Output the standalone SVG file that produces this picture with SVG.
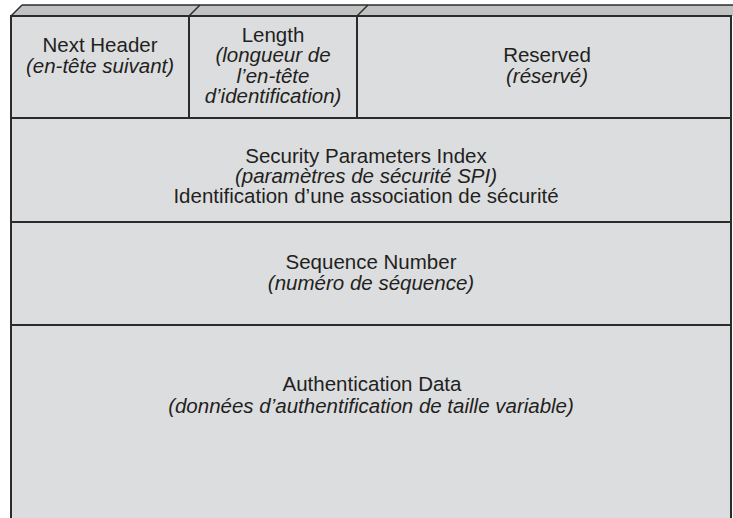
<svg xmlns="http://www.w3.org/2000/svg" width="733" height="518" viewBox="0 0 733 518">
<style>
.cell{fill:#dcdddf;stroke:none}
.band{fill:#c0c1c3;stroke:none}
.ln{stroke:#2b2b2b;stroke-width:2;fill:none}
.thin{stroke:#2b2b2b;stroke-width:1.5;fill:none}
text{font-family:"Liberation Sans",Arial,sans-serif;font-size:20.5px;fill:#231f20;text-anchor:middle}
.it{font-style:italic}
</style>
<rect width="733" height="518" fill="#ffffff"/>
<polygon class="band" points="11,16 22,5 733,5 733,16"/>
<rect class="cell" x="11" y="16" width="720" height="502"/>
<g id="frame">
<line class="thin" x1="22" y1="5" x2="733" y2="5"/>
<line class="thin" x1="11" y1="16" x2="22" y2="5"/>
<line class="thin" x1="189" y1="16" x2="200" y2="5"/>
<line class="thin" x1="357" y1="16" x2="368" y2="5"/>
<line class="ln" x1="11" y1="16" x2="731" y2="16"/>
<line class="ln" x1="11" y1="15" x2="11" y2="518"/>
<line class="ln" x1="731" y1="15" x2="731" y2="518"/>
</g>
<g id="next-header">
<line class="ln" x1="189" y1="16" x2="189" y2="118"/>
<text x="100" y="52">Next Header</text>
<text class="it" x="100" y="73">(en-tête suivant)</text>
</g>
<g id="length">
<line class="ln" x1="357" y1="16" x2="357" y2="118"/>
<text x="273" y="42">Length</text>
<text class="it" x="273" y="62">(longueur de</text>
<text class="it" x="273" y="83">l’en-tête</text>
<text class="it" x="273" y="103">d’identification)</text>
</g>
<g id="reserved">
<text x="547" y="62">Reserved</text>
<text class="it" x="547" y="83">(réservé)</text>
</g>
<g id="spi">
<line class="ln" x1="11" y1="118" x2="731" y2="118"/>
<text x="366" y="163">Security Parameters Index</text>
<text class="it" x="366" y="183">(paramètres de sécurité SPI)</text>
<text x="366" y="203">Identification d’une association de sécurité</text>
</g>
<g id="sequence">
<line class="ln" x1="11" y1="222" x2="731" y2="222"/>
<text x="371" y="269">Sequence Number</text>
<text class="it" x="371" y="290">(numéro de séquence)</text>
</g>
<g id="auth">
<line class="ln" x1="11" y1="325" x2="731" y2="325"/>
<text x="372" y="391">Authentication Data</text>
<text class="it" x="371" y="413">(données d’authentification de taille variable)</text>
</g>
</svg>
